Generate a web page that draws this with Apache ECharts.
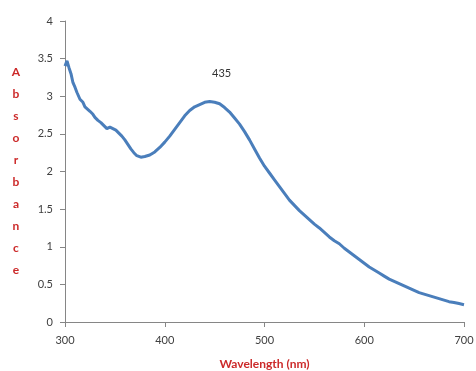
<!DOCTYPE html>
<html>
<head>
<meta charset="utf-8">
<script src="https://cdn.jsdelivr.net/npm/echarts@6/dist/echarts.min.js"></script>
<style>
  html, body { margin: 0; padding: 0; background: #fff; }
  #chart { width: 476px; height: 371px; }
</style>
</head>
<body>
<div id="chart"></div>
<script>
const wavelength = [
  300, 302, 304, 306, 308, 310, 312, 315, 318, 320, 322, 325, 328, 330, 333, 336, 339,
  342, 345, 348, 351, 354, 357, 360, 363, 366, 369, 372, 376, 380, 385, 390, 395,
  400, 405, 410, 415, 420, 425, 430, 435, 440, 445, 450, 455, 460, 465, 470, 475,
  480, 485, 490, 495, 500, 505, 510, 515, 520, 525, 530, 535, 540, 545, 550, 555,
  560, 565, 570, 575, 580, 585, 590, 595, 600, 605, 610, 615, 620, 625, 630, 635,
  640, 645, 650, 655, 660, 665, 670, 675, 680, 685, 690, 695, 700
];
const absorbance = [
  3.40, 3.47, 3.38, 3.30, 3.18, 3.12, 3.05, 2.96, 2.92, 2.86, 2.88, 2.80, 2.76, 2.72, 2.68, 2.65, 2.61,
  2.57, 2.59, 2.57, 2.55, 2.51, 2.47, 2.42, 2.36, 2.30, 2.25, 2.21, 2.19, 2.20, 2.22, 2.26, 2.32,
  2.39, 2.47, 2.56, 2.65, 2.74, 2.81, 2.86, 2.89, 2.92, 2.93, 2.92, 2.90, 2.85, 2.79, 2.71, 2.63,
  2.53, 2.42, 2.30, 2.18, 2.07, 1.98, 1.89, 1.80, 1.71, 1.62, 1.55, 1.48, 1.42, 1.36, 1.30, 1.25,
  1.19, 1.13, 1.08, 1.04, 0.98, 0.93, 0.88, 0.83, 0.78, 0.73, 0.69, 0.65, 0.61, 0.57, 0.54, 0.51,
  0.48, 0.45, 0.42, 0.39, 0.37, 0.35, 0.33, 0.31, 0.29, 0.27, 0.26, 0.245, 0.23
];
const peakLabel = "435";
const xTitle = "Wavelength (nm)";
const yTitle = "Absorbance";

const points = wavelength.map((w, i) => [w, absorbance[i]]);
// peak of the plasmon band (skip the noisy UV edge)
let peakIdx = 0;
wavelength.forEach((w, i) => {
  if (w > 400 && (peakIdx === 0 || absorbance[i] > absorbance[peakIdx])) peakIdx = i;
});

const chart = echarts.init(document.getElementById("chart"));
const axisColor = "#868686";
const labelColor = "#404040";
const titleColor = "#cc2a2a";
const font = "Lato, 'Liberation Sans', sans-serif";

chart.setOption({
  animation: false,
  grid: { left: 65, right: 12, top: 21, bottom: 49, outerBoundsMode: "none", containLabel: false },
  xAxis: {
    type: "value",
    min: 300,
    max: 700,
    interval: 100,
    name: xTitle,
    nameLocation: "middle",
    nameGap: 36,
    nameTextStyle: { color: titleColor, fontSize: 12, fontWeight: "bold", fontFamily: font },
    axisLine: { lineStyle: { color: axisColor, width: 1 } },
    axisTick: { show: true, length: 5, lineStyle: { color: axisColor } },
    axisLabel: { color: labelColor, fontSize: 11, fontFamily: font, margin: 13 },
    splitLine: { show: false }
  },
  yAxis: {
    type: "value",
    min: 0,
    max: 4,
    interval: 0.5,
    name: yTitle.split("").join("\n"),
    nameLocation: "middle",
    nameRotate: 0,
    nameGap: 49,
    nameTextStyle: {
      color: titleColor, fontSize: 12, fontWeight: "bold", fontFamily: font,
      lineHeight: 22, align: "center", verticalAlign: "middle"
    },
    axisLine: { show: true, lineStyle: { color: axisColor, width: 1 } },
    axisTick: { show: true, length: 5, lineStyle: { color: axisColor } },
    axisLabel: { color: labelColor, fontSize: 11, fontFamily: font, margin: 12 },
    splitLine: { show: false }
  },
  series: [
    {
      type: "line",
      data: points,
      showSymbol: false,
      smooth: false,
      lineStyle: { color: "#4a7ebb", width: 3 },
      markPoint: {
        symbol: "circle",
        symbolSize: 0,
        data: [{ coord: points[peakIdx] }],
        label: {
          show: true,
          formatter: peakLabel,
          color: "#333",
          fontSize: 11,
          fontFamily: font,
          offset: [12, -28]
        }
      }
    }
  ]
});
</script>
</body>
</html>
